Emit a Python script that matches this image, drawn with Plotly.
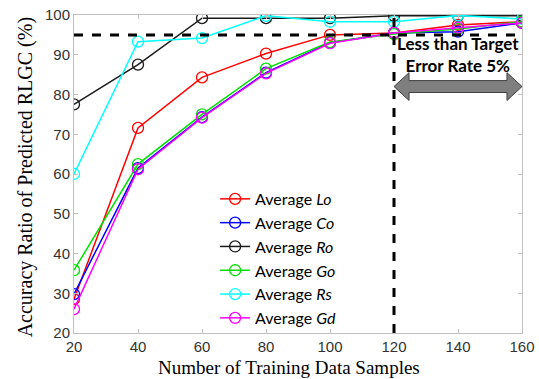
import plotly.graph_objects as go

samples = [20, 40, 60, 80, 100, 120, 140, 160]
avg_Lo = [28.5, 71.6, 84.3, 90.3, 95.0, 95.5, 97.5, 98.3]
avg_Co = [29.8, 61.5, 74.3, 85.5, 93.0, 95.5, 95.8, 98.0]
avg_Ro = [77.5, 87.5, 99.2, 99.2, 99.2, 99.8, 99.8, 99.8]
avg_Go = [35.8, 62.5, 75.0, 86.5, 93.2, 95.2, 96.5, 98.3]
avg_Rs = [60.0, 93.3, 94.2, 99.8, 98.3, 98.3, 99.9, 99.0]
avg_Gd = [26.0, 61.2, 74.2, 85.3, 92.9, 95.5, 96.8, 98.0]

series_names = ["Average <i>Lo</i>", "Average <i>Co</i>", "Average <i>Ro</i>",
                "Average <i>Go</i>", "Average <i>Rs</i>", "Average <i>Gd</i>"]
series_vals = [avg_Lo, avg_Co, avg_Ro, avg_Go, avg_Rs, avg_Gd]
colors = ["#ff0000", "#0000ff", "#1a1a1a", "#00e000", "#00ffff", "#ff00ff"]

target = 95
threshold_x = 120
arrow_y = 82
x_ticks = [20, 40, 60, 80, 100, 120, 140, 160]
y_ticks = [20, 30, 40, 50, 60, 70, 80, 90, 100]

fig = go.Figure()
for name, vals, c in zip(series_names, series_vals, colors):
    fig.add_trace(go.Scatter(
        x=samples, y=vals, name=name, mode="lines+markers",
        line=dict(color=c, width=1.5),
        marker=dict(symbol="circle-open", size=11, color=c, line=dict(width=1.3)),
    ))

# target lines
fig.add_shape(type="line", x0=samples[0], x1=samples[-1], y0=target, y1=target,
              xref="x", yref="y", line=dict(color="black", width=3, dash="dash"))
fig.add_shape(type="line", x0=threshold_x, x1=threshold_x, y0=y_ticks[0], y1=y_ticks[-1],
              xref="x", yref="y", line=dict(color="black", width=3, dash="dash"))

# double arrow
x0, x1 = threshold_x, samples[-1]
hl, hh, bh = 4.7, 3.5, 1.5
path = (f"M {x0},{arrow_y} L {x0+hl},{arrow_y+hh} L {x0+hl},{arrow_y+bh} "
        f"L {x1-hl},{arrow_y+bh} L {x1-hl},{arrow_y+hh} L {x1},{arrow_y} "
        f"L {x1-hl},{arrow_y-hh} L {x1-hl},{arrow_y-bh} L {x0+hl},{arrow_y-bh} "
        f"L {x0+hl},{arrow_y-hh} Z")
fig.add_shape(type="path", path=path, xref="x", yref="y",
              fillcolor="#7f7f7f", line=dict(color="#404040", width=1))

fig.add_annotation(x=(x0 + x1) / 2, y=90.0, xref="x", yref="y",
                   text="<b>Less than Target<br>Error Rate 5%</b>", showarrow=False,
                   font=dict(family="Lato", size=17, color="black"))

# axis titles
fig.add_annotation(x=0.48, y=-0.11, xref="paper", yref="paper",
                   text="Number of Training Data Samples", showarrow=False,
                   xanchor="center", yanchor="middle",
                   font=dict(family="Liberation Serif", size=19, color="black"))
fig.add_annotation(x=-0.109, y=0.49, xref="paper", yref="paper",
                   text="Accuracy Ratio of Predicted RLGC (%)", showarrow=False,
                   textangle=-90, xanchor="center", yanchor="middle",
                   font=dict(family="Liberation Serif", size=20, color="black"))

axis_common = dict(showgrid=False, zeroline=False, showline=True, linecolor="#c0c0c0",
                   linewidth=1, mirror="ticks", ticks="inside", ticklen=4,
                   tickcolor="#c0c0c0", automargin=False,
                   tickfont=dict(family="Liberation Sans", size=15, color="#333333"))

fig.update_xaxes(range=[20, 160], tickvals=x_ticks, **axis_common)
fig.update_yaxes(range=[20, 100], tickvals=y_ticks, **axis_common)

fig.update_layout(
    width=539, height=379,
    margin=dict(l=74, r=17, t=15, b=46),
    plot_bgcolor="white", paper_bgcolor="white",
    showlegend=True,
    legend=dict(x=0.315, y=0.475, xanchor="left", yanchor="top",
                bgcolor="rgba(0,0,0,0)", borderwidth=0,
                font=dict(family="Lato", size=16, color="black"),
                tracegroupgap=0, itemwidth=30),
)

fig.write_html("out.html")
